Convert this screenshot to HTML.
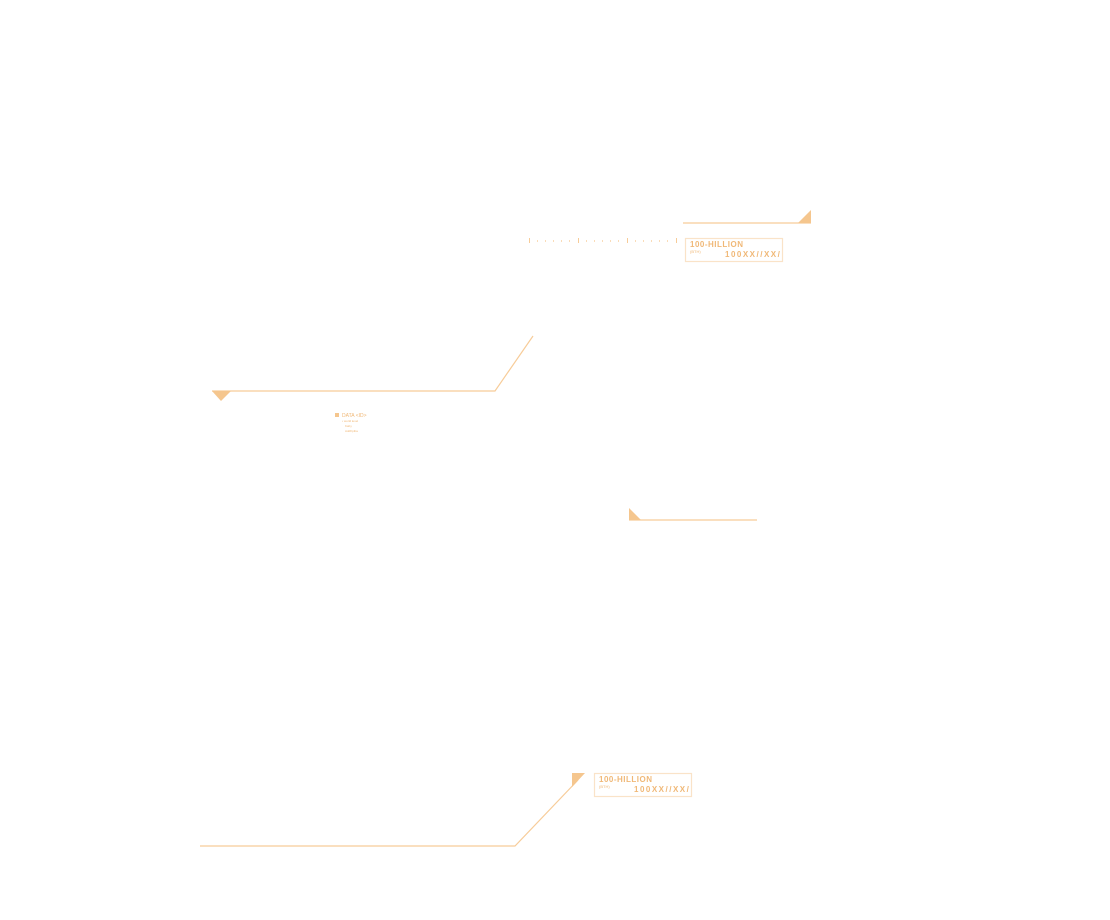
<!DOCTYPE html>
<html><head><meta charset="utf-8"><style>
html,body{margin:0;padding:0;background:#fff;width:1110px;height:920px;overflow:hidden}
svg{display:block}
text{font-family:"Liberation Sans",sans-serif;fill:#f0b877}
</style></head><body>
<svg width="1110" height="920" viewBox="0 0 1110 920">
<g stroke="#f7cc99" stroke-width="1.2" fill="none">
<polyline points="683,223 811,223"/>
<polyline points="533,336 495,391 212,391"/>
<polyline points="629,520 757,520"/>
<polyline points="200,846 515,846 578,780"/>
<rect x="685.5" y="238.5" width="97" height="23" stroke="#fae3c8"/>
<rect x="594.5" y="773.5" width="97" height="23" stroke="#fae3c8"/>
</g>
<g fill="#f5c68e">
<polygon points="811,210 811,223 798,223"/>
<polygon points="212,391 231,391 221,401"/>
<polygon points="629,508 629,520 641,520"/>
<polygon points="572,773 585,773 572,787"/>
<rect x="335" y="413" width="4" height="4"/>
</g>
<g stroke="#f7cc99" stroke-width="1">
<line x1="529.5" y1="238" x2="529.5" y2="243"/>
<line x1="578.5" y1="238" x2="578.5" y2="243"/>
<line x1="627.5" y1="238" x2="627.5" y2="243"/>
<line x1="676.5" y1="238" x2="676.5" y2="243"/>
</g>
<g stroke="#fadcb8" stroke-width="1">
<line x1="537.5" y1="240" x2="537.5" y2="242"/><line x1="545.5" y1="240" x2="545.5" y2="242"/><line x1="553.5" y1="240" x2="553.5" y2="242"/><line x1="561.5" y1="240" x2="561.5" y2="242"/><line x1="569.5" y1="240" x2="569.5" y2="242"/>
<line x1="586.5" y1="240" x2="586.5" y2="242"/><line x1="594.5" y1="240" x2="594.5" y2="242"/><line x1="602.5" y1="240" x2="602.5" y2="242"/><line x1="610.5" y1="240" x2="610.5" y2="242"/><line x1="618.5" y1="240" x2="618.5" y2="242"/>
<line x1="635.5" y1="240" x2="635.5" y2="242"/><line x1="643.5" y1="240" x2="643.5" y2="242"/><line x1="651.5" y1="240" x2="651.5" y2="242"/><line x1="659.5" y1="240" x2="659.5" y2="242"/><line x1="667.5" y1="240" x2="667.5" y2="242"/>
</g>
<text x="690" y="247" font-size="8" font-weight="bold" letter-spacing="0.5">100-HILLION</text>
<text x="690" y="253" font-size="4">(BTH)</text>
<text x="725" y="257" font-size="8" font-weight="bold" letter-spacing="1.5">100XX//XX/</text>
<text x="599" y="782" font-size="8" font-weight="bold" letter-spacing="0.5">100-HILLION</text>
<text x="599" y="788" font-size="4">(BTH)</text>
<text x="634" y="792" font-size="8" font-weight="bold" letter-spacing="1.5">100XX//XX/</text>
<text x="342" y="417" font-size="5">DATA &lt;ID&gt;</text>
<text x="342" y="422" font-size="3">• world level</text>
<text x="345" y="427" font-size="3">Kaby</text>
<text x="345" y="432" font-size="3">Addfrpiba</text>
</svg>
</body></html>
